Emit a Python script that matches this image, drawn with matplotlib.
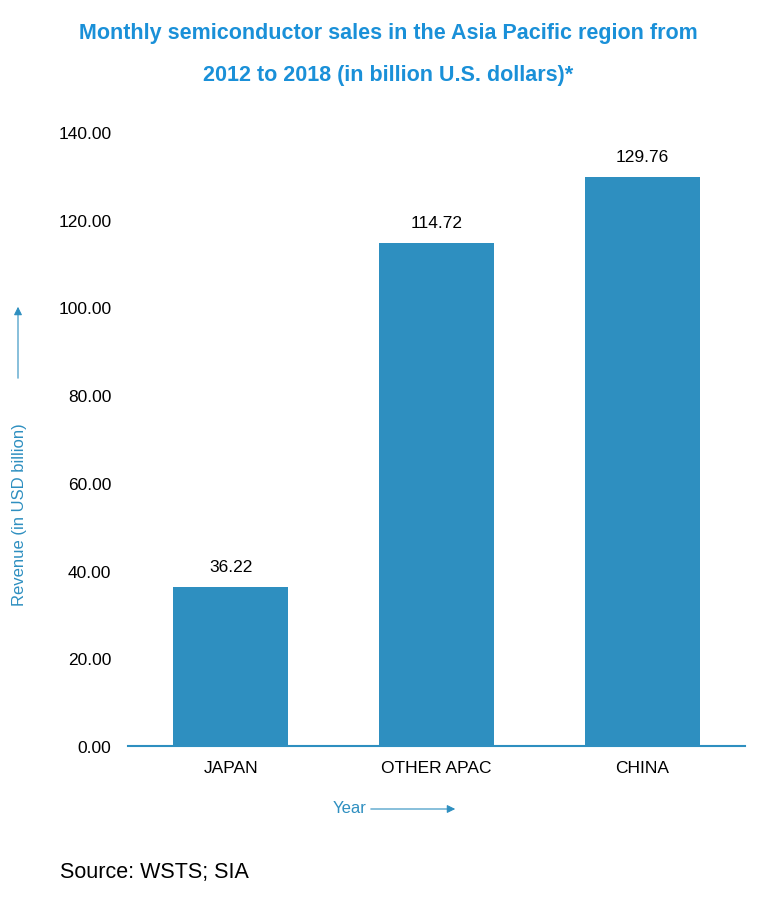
import matplotlib
matplotlib.use("Agg")
import matplotlib.pyplot as plt

categories = ["JAPAN", "OTHER APAC", "CHINA"]
values = [36.22, 114.72, 129.76]
yticks = [0, 20, 40, 60, 80, 100, 120, 140]

plt.rcParams['font.family'] = ['Liberation Sans', 'DejaVu Sans']
W, H = 776, 904
fig = plt.figure(figsize=(W/100, H/100), dpi=100)
ax = fig.add_axes([128/W, 1-747/H, 617/W, 614/H])
bar_c = "#2E8FC0"
blue = "#2E8FC0"
ax.bar(range(len(categories)), values, width=0.56, color=bar_c)
for i, v in enumerate(values):
    ax.text(i, v + 3, f"{v:.2f}", ha="center", va="bottom", fontsize=12.5)
ax.set_xlim(-0.5, 2.5)
ax.set_ylim(0, 140)
ax.set_yticks(yticks)
ax.set_yticklabels([f"{t:.2f}" for t in yticks], fontsize=12.5)
ax.set_xticks(range(len(categories)))
ax.set_xticklabels(categories, fontsize=12.5)
for s in ["top", "right", "left"]:
    ax.spines[s].set_visible(False)
ax.spines["bottom"].set_color(blue)
ax.spines["bottom"].set_linewidth(1.5)
ax.tick_params(axis="y", length=0, pad=12)
ax.tick_params(axis="x", length=0, pad=10)

fig.text(0.5, 1-33/H, "Monthly semiconductor sales in the Asia Pacific region from",
         ha="center", va="center", fontsize=15.5, fontweight="bold", color="#1A90D8")
fig.text(0.5, 1-75/H, "2012 to 2018 (in billion U.S. dollars)*",
         ha="center", va="center", fontsize=15.5, fontweight="bold", color="#1A90D8")

fig.text(20/W, 1-515/H, "Revenue (in USD billion)", rotation=90, ha="center",
         va="center", fontsize=12, color=blue)
fig.add_artist(matplotlib.patches.FancyArrowPatch((18/W, 1-382/H), (18/W, 1-305/H),
               transform=fig.transFigure, arrowstyle="-|>", mutation_scale=12,
               color=blue, lw=0.8))
fig.text(350/W, 1-809/H, "Year", ha="center", va="center", fontsize=12, color=blue)
fig.add_artist(matplotlib.patches.FancyArrowPatch((368/W, 1-810/H), (458/W, 1-810/H),
               transform=fig.transFigure, arrowstyle="-|>", mutation_scale=12,
               color=blue, lw=0.8))
fig.text(60/W, 1-873/H, "Source: WSTS; SIA", ha="left", va="center", fontsize=15.5)
fig.savefig("out.png", dpi=100)
